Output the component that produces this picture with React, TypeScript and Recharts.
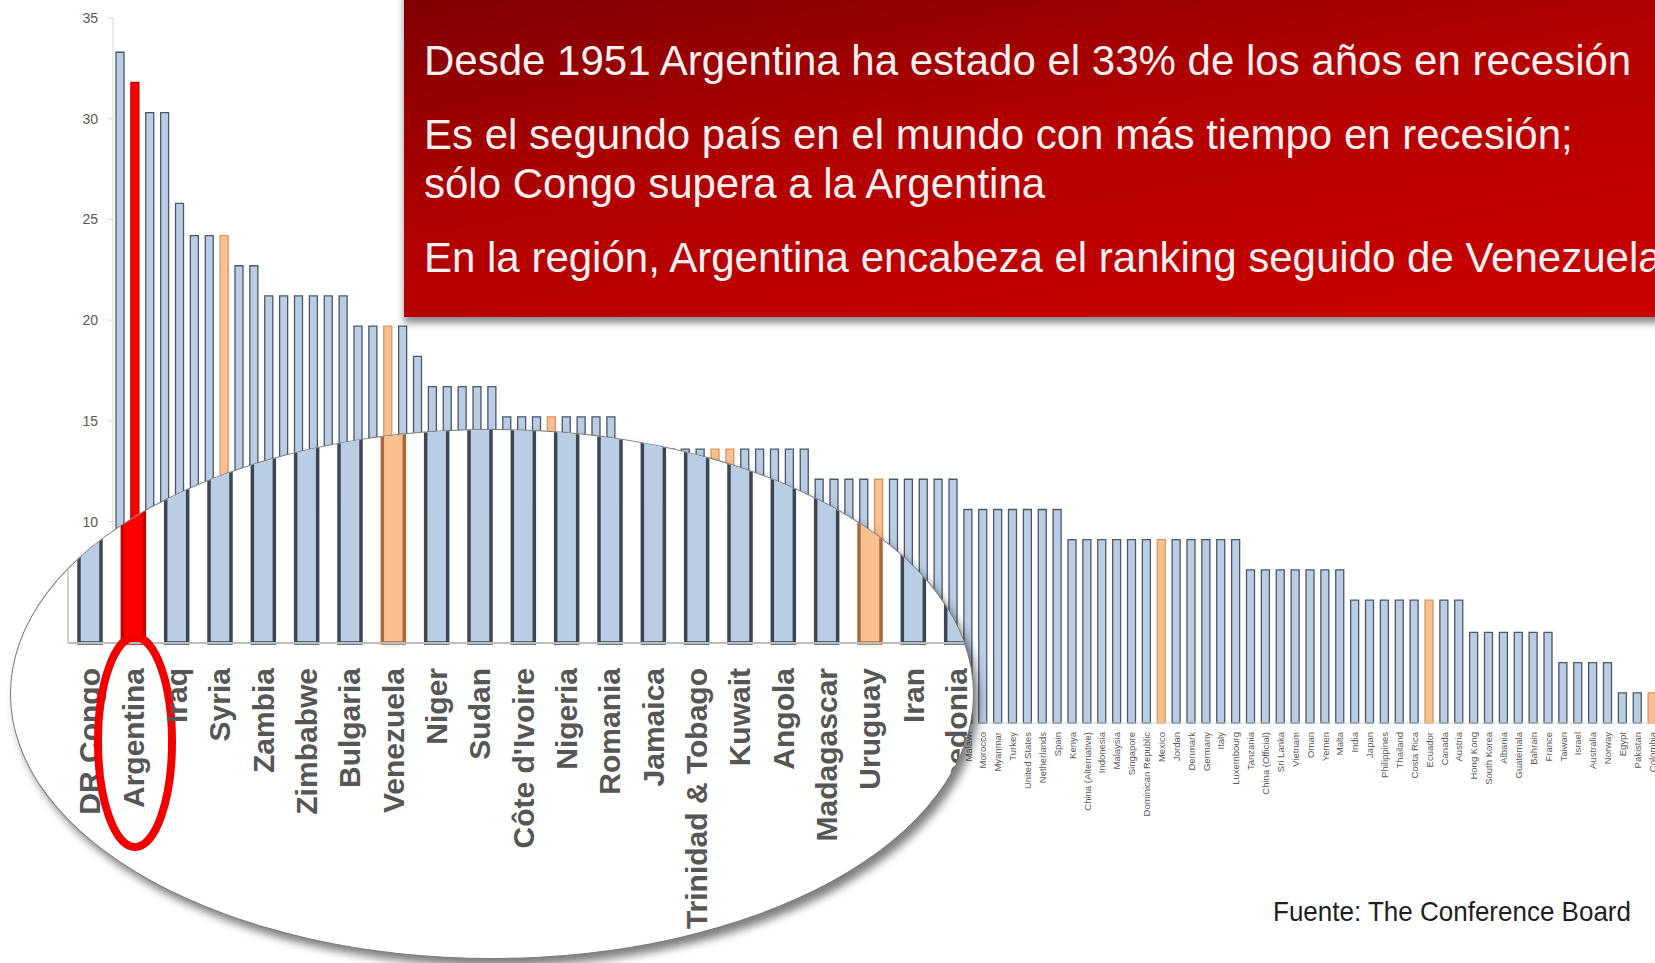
import { Bar, BarChart, Cell, XAxis, YAxis } from "recharts";

// share of years in recession since 1951 (%), sorted as in the slide
const countries = [
  "DR Congo", "Argentina", "Iraq", "Syria", "Zambia", "Zimbabwe", "Bulgaria", "Venezuela", "Niger", "Sudan",
  "Côte d'Ivoire", "Nigeria", "Romania", "Jamaica", "Trinidad & Tobago", "Kuwait", "Angola", "Madagascar", "Uruguay", "Iran",
  "Macedonia", "Ghana", "Cameroon", "Serbia", "Croatia", "Russia", "Ukraine", "Saudi Arabia", "Qatar", "Peru",
  "Ethiopia", "Mozambique", "Senegal", "Tunisia", "Greece", "Hungary", "Poland", "Finland", "Algeria", "Cyprus",
  "Brazil", "Chile", "Portugal", "Iceland", "New Zealand", "Switzerland", "Sweden", "United Kingdom", "Belgium", "Bangladesh",
  "Ireland", "Bolivia", "Barbados", "United Arab Emirates", "Czech Republic", "Slovakia", "Estonia", "Malawi", "Morocco", "Myanmar",
  "Turkey", "United States", "Netherlands", "Spain", "Kenya", "China (Alternative)", "Indonesia", "Malaysia", "Singapore", "Dominican Republic",
  "Mexico", "Jordan", "Denmark", "Germany", "Italy", "Luxembourg", "Tanzania", "China (Official)", "Sri Lanka", "Vietnam",
  "Oman", "Yemen", "Malta", "India", "Japan", "Philippines", "Thailand", "Costa Rica", "Ecuador", "Canada",
  "Austria", "Hong Kong", "South Korea", "Albania", "Guatemala", "Bahrain", "France", "Taiwan", "Israel", "Australia",
  "Norway", "Egypt", "Pakistan", "Colombia",
];

const recessionShare = [
  33.3, 31.8, 30.3, 30.3, 25.8, 24.2, 24.2, 24.2, 22.7, 22.7,
  21.2, 21.2, 21.2, 21.2, 21.2, 21.2, 19.7, 19.7, 19.7, 19.7,
  18.2, 16.7, 16.7, 16.7, 16.7, 16.7, 15.2, 15.2, 15.2, 15.2,
  15.2, 15.2, 15.2, 15.2, 13.6, 13.6, 13.6, 13.6, 13.6, 13.6,
  13.6, 13.6, 13.6, 13.6, 13.6, 13.6, 13.6, 12.1, 12.1, 12.1,
  12.1, 12.1, 12.1, 12.1, 12.1, 12.1, 12.1, 10.6, 10.6, 10.6,
  10.6, 10.6, 10.6, 10.6, 9.1, 9.1, 9.1, 9.1, 9.1, 9.1,
  9.1, 9.1, 9.1, 9.1, 9.1, 9.1, 7.6, 7.6, 7.6, 7.6,
  7.6, 7.6, 7.6, 6.1, 6.1, 6.1, 6.1, 6.1, 6.1, 6.1,
  6.1, 4.5, 4.5, 4.5, 4.5, 4.5, 4.5, 3.0, 3.0, 3.0,
  3.0, 1.5, 1.5, 1.5,
];

const focusCountry = "Argentina";
const latamCountries = ["Venezuela", "Uruguay", "Peru", "Brazil", "Chile", "Bolivia", "Mexico", "Ecuador", "Colombia"];
const yTicks = [0, 5, 10, 15, 20, 25, 30, 35];
const zoomedCount = 21;

const titleLines = [
  "Desde 1951 Argentina ha estado el 33% de los años en recesión",
  "Es el segundo país en el mundo con más tiempo en recesión;",
  "sólo Congo supera a la Argentina",
  "En la región, Argentina encabeza el ranking seguido de Venezuela",
];
const sourceNote = "Fuente: The Conference Board";

const data = countries.map((name, i) => ({ name, value: recessionShare[i] }));
const zoomData = data.slice(0, zoomedCount);

const FONT = "'Liberation Sans', Arial, sans-serif";

function fillFor(name: string) {
  if (name === focusCountry) return "#ff0000";
  if (latamCountries.includes(name)) return "#fac090";
  return "#b9cde5";
}

function strokeFor(name: string, thick: boolean) {
  if (name === focusCountry) return "#c40000";
  if (latamCountries.includes(name)) return thick ? "#a86a3a" : "#d99560";
  return thick ? "#3b4653" : "#4a5868";
}

function SmallTick(props: any) {
  const { x, y, payload } = props;
  return (
    <g transform={`translate(${x},${y})`}>
      <text transform="rotate(-90)" textAnchor="end" dy="0.34em" fontSize={9.5} fill="#595959" fontFamily={FONT}>
        {payload.value}
      </text>
    </g>
  );
}

function ZoomTick(props: any) {
  const { x, y, payload } = props;
  return (
    <g transform={`translate(${x},${y})`}>
      <text transform="rotate(-90)" textAnchor="end" dy="0.36em" fontSize={30} fontWeight={700} fill="#565656" fontFamily={FONT}>
        {payload.value}
      </text>
      {payload.value === focusCountry && (
        <ellipse cx={2} cy={74} rx={37} ry={105} fill="none" stroke="#f20000" strokeWidth={8} />
      )}
    </g>
  );
}

export default function App() {
  return (
    <div style={{ position: "fixed", left: 0, top: 0, width: 1655, height: 963, overflow: "hidden", background: "#fff", fontFamily: FONT }}>
      {/* main chart */}
      <div style={{ position: "absolute", left: 0, top: 0 }}>
        <BarChart width={1660} height={963} data={data} margin={{ top: 18, right: 0, bottom: 0, left: 0 }}>
          <XAxis dataKey="name" height={240} interval={0} tickLine={false} tickSize={6} tickMargin={3}
                 axisLine={{ stroke: "#d9d9d9" }} tick={SmallTick} />
          <YAxis width={113} domain={[0, 35]} ticks={yTicks} interval={0} tickSize={5} tickMargin={10}
                 axisLine={{ stroke: "#d9d9d9" }} tickLine={{ stroke: "#d9d9d9" }}
                 tick={{ fontSize: 14, fill: "#595959", fontFamily: FONT }} />
          <Bar dataKey="value" barSize={8} isAnimationActive={false}>
            {data.map((d) => (
              <Cell key={d.name} fill={fillFor(d.name)} stroke={strokeFor(d.name, false)} strokeWidth={1.3} />
            ))}
          </Bar>
        </BarChart>
      </div>

      {/* magnifier */}
      <div style={{
        position: "absolute", left: 10, top: 429, width: 964, height: 530, borderRadius: "50%",
        overflow: "hidden", background: "#fff", border: "1.5px solid #7a7a7a", boxSizing: "border-box",
        boxShadow: "5px 7px 9px rgba(0,0,0,0.5)",
      }}>
        <div style={{ position: "absolute", left: -11.5, top: -1838.5 }}>
          <BarChart width={978} height={2051 + 330} data={zoomData} margin={{ top: 0, right: 0, bottom: 0, left: 0 }}>
            <XAxis dataKey="name" height={330} interval={0} tickLine={false} tickSize={6} tickMargin={19}
                   axisLine={{ stroke: "#bdbdbd", strokeWidth: 2 }} tick={ZoomTick} />
            <YAxis width={68} domain={[0, 35]} ticks={yTicks} tick={false} tickLine={false} axisLine={{ stroke: "#d0d0d0", strokeWidth: 2 }} />
            <Bar dataKey="value" barSize={22} isAnimationActive={false}>
              {zoomData.map((d) => (
                <Cell key={d.name} fill={fillFor(d.name)} stroke={strokeFor(d.name, true)} strokeWidth={3.5} />
              ))}
            </Bar>
          </BarChart>
        </div>
      </div>

      {/* title box */}
      <div style={{
        position: "absolute", left: 404, top: -10, width: 1300, height: 327,
        background: "linear-gradient(170deg, #7e0000 0%, #b30000 45%, #cc0000 100%)",
        boxShadow: "0 6px 7px rgba(0,0,0,0.45)",
      }} />

      <svg width={1655} height={963} style={{ position: "absolute", left: 0, top: 0, pointerEvents: "none" }}>
        <g fontFamily={FONT} fontSize={42} fill="#fdf0f0">
          <text x={424} y={75}>{titleLines[0]}</text>
          <text x={424} y={149}>{titleLines[1]}</text>
          <text x={424} y={198}>{titleLines[2]}</text>
          <text x={424} y={272}>{titleLines[3]}</text>
        </g>
        <text x={1273} y={921} fontFamily={FONT} fontSize={28} fill="#1e1e1e" textLength={358} lengthAdjust="spacingAndGlyphs">
          {sourceNote}
        </text>
      </svg>
    </div>
  );
}
